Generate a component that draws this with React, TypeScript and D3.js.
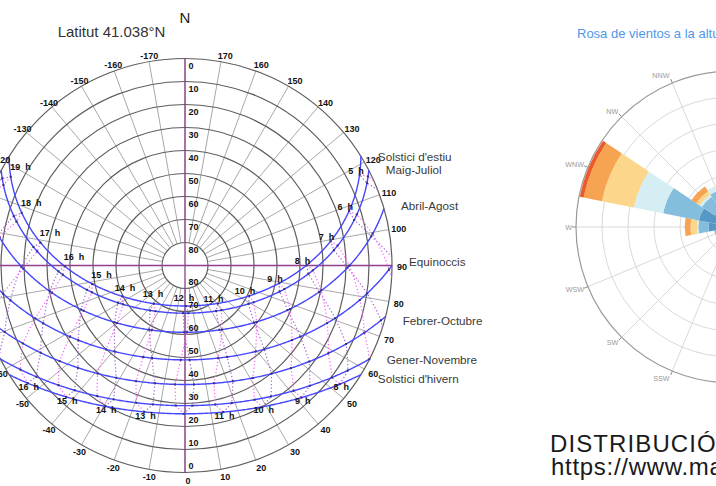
import React from 'react';
import * as d3 from 'd3';

// ---------------- DATA ----------------
const LATITUDE = 41.038;

const curveNames = ["Solstici d'estiu", 'Maig-Juliol', 'Abril-Agost', 'Equinoccis', 'Febrer-Octubre', 'Gener-Novembre', "Solstici d'hivern"];
const curveDeclinations = [23.44, 20.3, 12.0, 0.0, -10.7, -19.9, -23.44];

// month -> index of its date curve, equation of time (minutes)
const monthNames = ['Gen', 'Feb', 'Mar', 'Abr', 'Mai', 'Jun', 'Jul', 'Ago', 'Set', 'Oct', 'Nov', 'Des'];
const monthCurve = [5, 4, 3, 2, 1, 0, 1, 2, 3, 4, 5, 6];
const monthEquationOfTime = [-11.2, -13.8, -7.3, 1.2, 3.5, -1.6, -6.3, -3.3, 6.8, 15.4, 14.0, 1.9];
const firstHalfMonths = [11, 0, 1, 2, 3, 4, 5];
const secondHalfMonths = [5, 6, 7, 8, 9, 10, 11];

const clockHours = [5, 6, 7, 8, 9, 10, 11, 12, 13, 14, 15, 16, 17, 18, 19];
const summerLabelHours = [5, 6, 7, 8, 9, 10, 11, 12, 13, 14, 15, 16, 17, 18, 19];
const winterLabelHours = [8, 9, 10, 11, 13, 14, 15, 16];

const altitudeTicks = [0, 10, 20, 30, 40, 50, 60, 70, 80];
const azimuthTicks = [-170, -160, -150, -140, -130, -120, -110, -100, -90, -80, -70, -60, -50, -40, -30, -20, -10,
  0, 10, 20, 30, 40, 50, 60, 70, 80, 90, 100, 110, 120, 130, 140, 150, 160, 170];
const spokeAzimuths = [-170, -160, -150, -140, -130, -120, -110, -100, -90, -80, -70, -60, -50, -40, -30, -20, -10,
  0, 10, 20, 30, 40, 50, 60, 70, 80, 90, 100, 110, 120, 130, 140, 150, 160, 170, 180];

// wind rose
const windDirections = ['N', 'NNE', 'NE', 'ENE', 'E', 'ESE', 'SE', 'SSE', 'S', 'SSW', 'SW', 'WSW', 'W', 'WNW', 'NW', 'NNW'];
const windSpeedColors = ['#5597c6', '#84bedc', '#d5eef4', '#fcd68a', '#f6a452', '#ec5a2a'];
const windRings = [1, 2, 3, 4, 5];
const windNNW = [0.9, 0.6, 0.2, 0, 0, 0];
const windNW = [0.8, 0.6, 0.1, 0.15, 0.22, 0];
const windWNW = [1.3, 1.4, 1.15, 1.25, 0.72, 0.15];
const windW = [0.9, 0.4, 0.05, 0.25, 0.22, 0];
const windWSW = [0.5, 0.2, 0, 0, 0, 0];

// ---------------- LAYOUT ----------------
const W = 716, H = 486;
const CX = 185, CY = 265.5, R = 207;
const WCX = 732, WCY = 227, WR = 156;
const FONT = 'Liberation Sans, Arial, Helvetica, sans-serif';
const curveLabelDy = [0, -1, -3, -4.5, 4, 1, 3.5];

const rScale = d3.scaleLinear().domain([90, 0]).range([0, R]);
const windScale = d3.scaleLinear().domain([0, 6]).range([0, WR]);

const projection = d3.geoAzimuthalEquidistant()
  .rotate([0, -LATITUDE])
  .scale(R / (Math.PI / 2))
  .translate([CX, CY])
  .clipAngle(90)
  .precision(0.1);
const geoPath = d3.geoPath(projection);
const zenith: [number, number] = [0, LATITUDE];

const polar = (az: number, r: number): [number, number] => {
  const a = (az * Math.PI) / 180;
  return [CX + r * Math.sin(a), CY + r * Math.cos(a)];
};

const sunCoord = (clockHour: number, eotMin: number, dec: number): [number, number] => {
  const ha = (clockHour - 12 + eotMin / 60) * 15;
  return [-ha, dec];
};
const aboveHorizon = (c: [number, number]) => d3.geoDistance(c, zenith) < Math.PI / 2;

function summerOffset(h: number): [number, number] {
  if (h < 12) return [-3.5, -5];
  if (h === 12) return [-1, -7.5];
  if (h === 13) return [0, -9.5];
  if (h === 14) return [3.5, -8];
  return [10, -9];
}

export default function App() {
  // grid
  const rings = altitudeTicks.map((a) => (
    <circle key={'ring' + a} cx={CX} cy={CY} r={rScale(a)} fill="none" stroke="#5e5e5e" strokeWidth={1.2} />
  ));
  const spokes = spokeAzimuths.map((az) => {
    const [x1, y1] = polar(az, rScale(80));
    const [x2, y2] = polar(az, rScale(0));
    return <line key={'sp' + az} x1={x1} y1={y1} x2={x2} y2={y2} stroke="#a8a8a8" strokeWidth={1} />;
  });

  // hour lines (analemmas)
  const hourLines: React.ReactNode[] = [];
  clockHours.forEach((h) => {
    const mk = (months: number[]) => ({
      type: 'LineString',
      coordinates: months.map((m) => sunCoord(h, monthEquationOfTime[m], curveDeclinations[monthCurve[m]])),
    });
    const d1 = geoPath(mk(firstHalfMonths) as any);
    const d2 = geoPath(mk(secondHalfMonths) as any);
    if (d1) hourLines.push(<path key={'hp' + h} d={d1} fill="none" stroke="#a765d8" strokeWidth={1.2} strokeDasharray="1.3 2.2" />);
    if (d2) hourLines.push(<path key={'hk' + h} d={d2} fill="none" stroke="#ff66ff" strokeWidth={1.2} strokeDasharray="1.3 2.2" />);
  });

  // date curves
  const curves = curveDeclinations.map((dec, i) => {
    const poly = d3.geoCircle().center([0, 90]).radius(90 - dec).precision(0.5)();
    const d = geoPath({ type: 'LineString', coordinates: poly.coordinates[0] } as any);
    return <path key={'c' + i} d={d || ''} fill="none" stroke="#4646ff" strokeWidth={1.4} />;
  });

  // dots
  const dots: React.ReactNode[] = [];
  monthNames.forEach((mn, m) => {
    clockHours.forEach((h) => {
      const c = sunCoord(h, monthEquationOfTime[m], curveDeclinations[monthCurve[m]]);
      if (!aboveHorizon(c)) return;
      const p = projection(c);
      if (!p) return;
      dots.push(<rect key={'dt' + mn + h} x={p[0] - 1} y={p[1] - 1} width={2} height={2} fill="#333377" />);
    });
  });

  // hour labels
  const hourLabels: React.ReactNode[] = [];
  summerLabelHours.forEach((h) => {
    const p = projection(sunCoord(h, 0, curveDeclinations[0]))!;
    const [dx, dy] = summerOffset(h);
    hourLabels.push(
      <text key={'sl' + h} x={p[0] + dx} y={p[1] + dy} textAnchor="middle" dominantBaseline="central"
        fontSize={9} fontWeight="bold" fontFamily={FONT} fill="#111" style={{ whiteSpace: 'pre' }}>{`${h}  h`}</text>
    );
  });
  winterLabelHours.forEach((h) => {
    const p = projection(sunCoord(h, 0, curveDeclinations[6]))!;
    hourLabels.push(
      <text key={'wl' + h} x={p[0]} y={p[1] + 3.5} textAnchor="middle" dominantBaseline="central"
        fontSize={9} fontWeight="bold" fontFamily={FONT} fill="#111" style={{ whiteSpace: 'pre' }}>{`${h}  h`}</text>
    );
  });

  // curve labels at sunrise points
  const curveLabels = curveDeclinations.map((dec, i) => {
    const phi = (LATITUDE * Math.PI) / 180;
    const del = (dec * Math.PI) / 180;
    const h0 = (Math.acos(-Math.tan(phi) * Math.tan(del)) * 180) / Math.PI;
    const p = projection([h0, dec])!;
    return (
      <text key={'cl' + i} x={p[0] + 17} y={p[1] + curveLabelDy[i]} dominantBaseline="central"
        fontSize={11.7} fontFamily={FONT} fill="#3a3a3a">{curveNames[i]}</text>
    );
  });

  // altitude labels
  const altLabels: React.ReactNode[] = [];
  altitudeTicks.forEach((a) => {
    altLabels.push(
      <text key={'at' + a} x={188.5} y={CY - rScale(a) + 7} dominantBaseline="central" fontSize={9}
        fontWeight="bold" fontFamily={FONT} fill="#111">{a}</text>,
      <text key={'ab' + a} x={188.5} y={CY + rScale(a) - 7} dominantBaseline="central" fontSize={9}
        fontWeight="bold" fontFamily={FONT} fill="#111">{a}</text>
    );
  });

  const azLabels = azimuthTicks.map((az) => {
    const [x, y] = polar(az, 214);
    return (
      <text key={'az' + az} x={x + (az < 0 ? 1.5 : 3)} y={y + 1} textAnchor="middle" dominantBaseline="central" fontSize={9}
        fontWeight="bold" fontFamily={FONT} fill="#111">{String(az)}</text>
    );
  });

  // ---------------- wind rose ----------------
  const windStacks: Record<string, number[]> = { NNW: windNNW, NW: windNW, WNW: windWNW, W: windW, WSW: windWSW };
  const arcGen = d3.arc();
  const step = (2 * Math.PI) / windDirections.length;
  const windWedges: React.ReactNode[] = [];
  windDirections.forEach((dir, i) => {
    const vals = windStacks[dir];
    if (!vals) return;
    let acc = 0;
    vals.forEach((v, k) => {
      if (v <= 0) return;
      const d = arcGen({
        innerRadius: windScale(acc),
        outerRadius: windScale(acc + v),
        startAngle: i * step - step / 2,
        endAngle: i * step + step / 2,
      } as any);
      acc += v;
      windWedges.push(<path key={'w' + dir + k} d={d || ''} fill={windSpeedColors[k]} />);
    });
  });
  const windGrid = windDirections.map((dir, i) => {
    const a = i * step;
    const sx = Math.sin(a), cy = -Math.cos(a);
    return (
      <g key={'wg' + dir}>
        <line x1={WCX} y1={WCY} x2={WCX + WR * sx} y2={WCY + WR * cy} stroke="#d9d9d9" strokeWidth={1} />
        <line x1={WCX + WR * sx} y1={WCY + WR * cy} x2={WCX + (WR + 4) * sx} y2={WCY + (WR + 4) * cy} stroke="#888" strokeWidth={1} />
        <text x={WCX + 158 * sx - 2} y={WCY + 158 * cy + 6 * cy} textAnchor="end" dominantBaseline="central"
          fontSize={7.2} fontFamily={FONT} fill="#999">{dir}</text>
      </g>
    );
  });

  return (
    <svg width={W} height={H} viewBox={`0 0 ${W} ${H}`} style={{ position: 'absolute', left: 0, top: 0, background: '#fff' }}>
      <rect x={0} y={0} width={W} height={H} fill="#fff" />

      {/* wind rose */}
      <g>
        {windRings.map((v) => (
          <circle key={'wr' + v} cx={WCX} cy={WCY} r={windScale(v)} fill="none" stroke="#d9d9d9" strokeWidth={1} />
        ))}
        {windGrid}
        <circle cx={WCX} cy={WCY} r={WR} fill="none" stroke="#9a9a9a" strokeWidth={1.2} />
        <g transform={`translate(${WCX},${WCY})`}>{windWedges}</g>
        <text x={577} y={33} dominantBaseline="central" fontSize={13} fontFamily={FONT} fill="#4f97ea">Rosa de vientos a la altura de 10 m</text>
      </g>
      <text x={550} y={452} fontSize={24} letterSpacing={1.1} fontFamily={FONT} fill="#1a1a1a">DISTRIBUCIÓ DEL VENT</text>
      <text x={551} y={475} fontSize={24} letterSpacing={0.7} fontFamily={FONT} fill="#1a1a1a">https://www.mapama.gob.es</text>

      {/* sun path chart */}
      <g>
        {spokes}
        <circle cx={CX} cy={CY} r={rScale(80)} fill="#fff" stroke="none" />
        {rings}
        <line x1={CX} y1={CY - R} x2={CX} y2={CY + R} stroke="#8e3f8e" strokeWidth={1.3} />
        <line x1={CX - R} y1={CY} x2={CX + R} y2={CY} stroke="#8e3f8e" strokeWidth={1.3} />
        {hourLines}
        {curves}
        {dots}
        {altLabels}
        {azLabels}
        {hourLabels}
        {curveLabels}
        <text x={111.5} y={37} textAnchor="middle" fontSize={15} fontFamily={FONT} fill="#333">Latitut 41.038°N</text>
        <text x={185} y={23} textAnchor="middle" fontSize={15} fontFamily={FONT} fill="#222">N</text>
      </g>
    </svg>
  );
}
